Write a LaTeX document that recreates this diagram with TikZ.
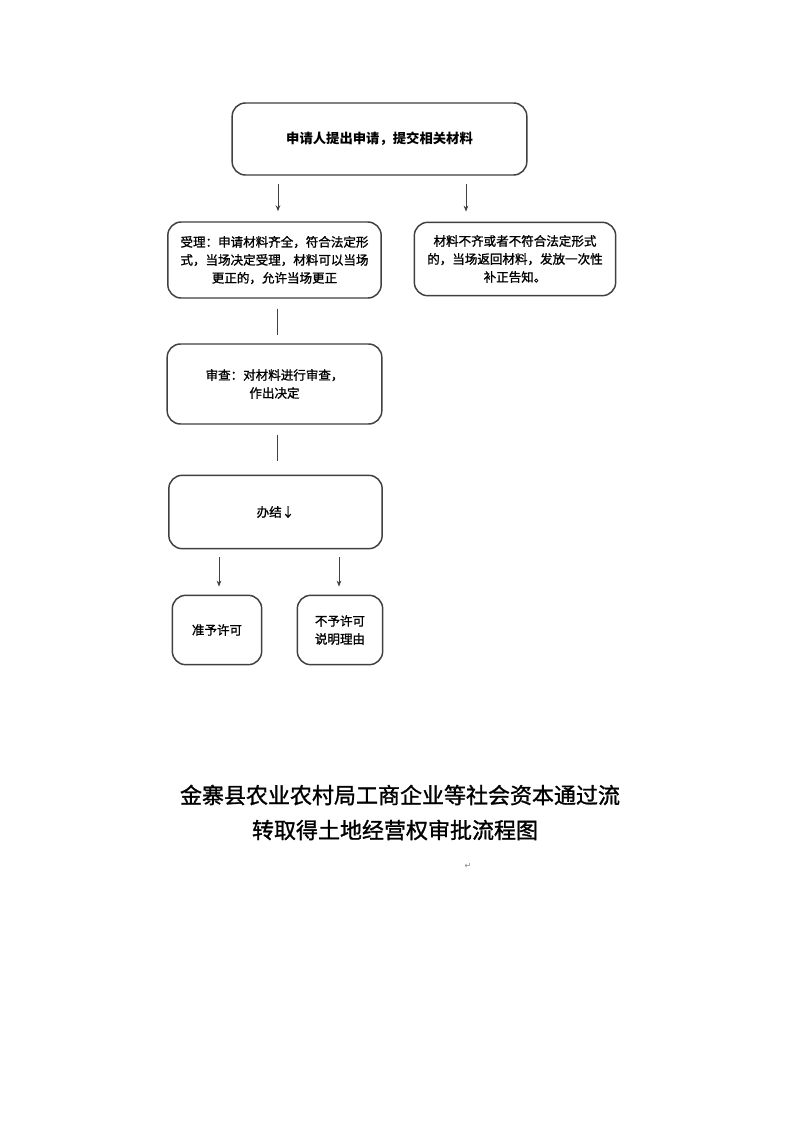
\documentclass[tikz,border=0pt]{standalone}
\usepackage{fontspec}
\newfontfamily\cjk{Noto Sans CJK SC}
\newfontfamily\cjkm[FakeBold=1.2]{Noto Sans CJK SC}
\newfontfamily\sym{DejaVu Sans}
\usepackage{tikz}
\usetikzlibrary{arrows.meta,calc}
\definecolor{edge}{gray}{0.25}
\tikzset{
  box/.style={draw=edge, line width=1.1pt, rounded corners=10pt, align=center, inner sep=2pt,
    font=\cjkm\fontsize{9.4}{13.5}\selectfont, text=black},
  arr/.style={draw=edge, line width=0.7pt, -{Stealth[length=4.5pt,width=3.5pt]}},
  conn/.style={draw=edge, line width=0.7pt},
  ttl/.style={font=\cjkm\fontsize{16.5}{26}\selectfont, align=center}
}
\begin{document}
\begin{tikzpicture}[x=0.75pt,y=-0.75pt]
\useasboundingbox[fill=white] (0,0) rectangle (794,1122);
% boxes
\node[box, minimum width=221pt, minimum height=54pt, font=\cjk\bfseries\fontsize{10}{13}\selectfont] (apply) at (379.5,139) {申请人提出申请，提交相关材料};
\node[box, minimum width=160pt, minimum height=57pt] (accept) at (274.5,260)
  {受理：申请材料齐全，符合法定形\\式，当场决定受理，材料可以当场\\更正的，允许当场更正};
\node[box, minimum width=151pt, minimum height=55pt] (reject) at (515,259)
  {材料不齐或者不符合法定形式\\的，当场返回材料，发放一次性\\补正告知。};
\node[box, minimum width=161pt, minimum height=60pt] (review) at (274.5,384)
  {审查：对材料进行审查，\\作出决定};
\node[box, minimum width=160pt, minimum height=55pt] (finish) at (275.5,512) {办结↓};
\node[box, minimum width=67pt, minimum height=52pt] (grant) at (217,630) {准予许可};
\node[box, minimum width=64pt, minimum height=52pt] (deny) at (340,630) {不予许可\\说明理由};
% connectors
\draw[arr, shorten <=6pt, shorten >=7.5pt] ($(apply.south)+(-101.5,0)$) -- ($(accept.north)+(3.5,0)$);
\draw[arr, shorten <=6pt, shorten >=7.5pt] ($(apply.south)+(86.5,0)$) -- ($(reject.north)+(-49,0)$);
\draw[conn, shorten <=7.5pt, shorten >=6pt] ($(accept.south)+(2.5,0)$) -- ($(review.north)+(2.5,0)$);
\draw[conn, shorten <=7.5pt, shorten >=10pt] ($(review.south)+(2.5,0)$) -- ($(finish.north)+(1.5,0)$);
\draw[arr, shorten <=6pt, shorten >=6pt] ($(finish.south)+(-56.5,0)$) -- ($(grant.north)+(2,0)$);
\draw[arr, shorten <=6pt, shorten >=6pt] ($(finish.south)+(63.5,0)$) -- ($(deny.north)+(-1,0)$);
% title
\node[ttl] (title1) at (400,795) {金寨县农业农村局工商企业等社会资本通过流};
\node[ttl] (title2) at (395,830) {转取得土地经营权审批流程图};
\node[font=\sym\fontsize{6}{6}\selectfont, text=gray] (mark) at (468,866) {↵};
\end{tikzpicture}
\end{document}
